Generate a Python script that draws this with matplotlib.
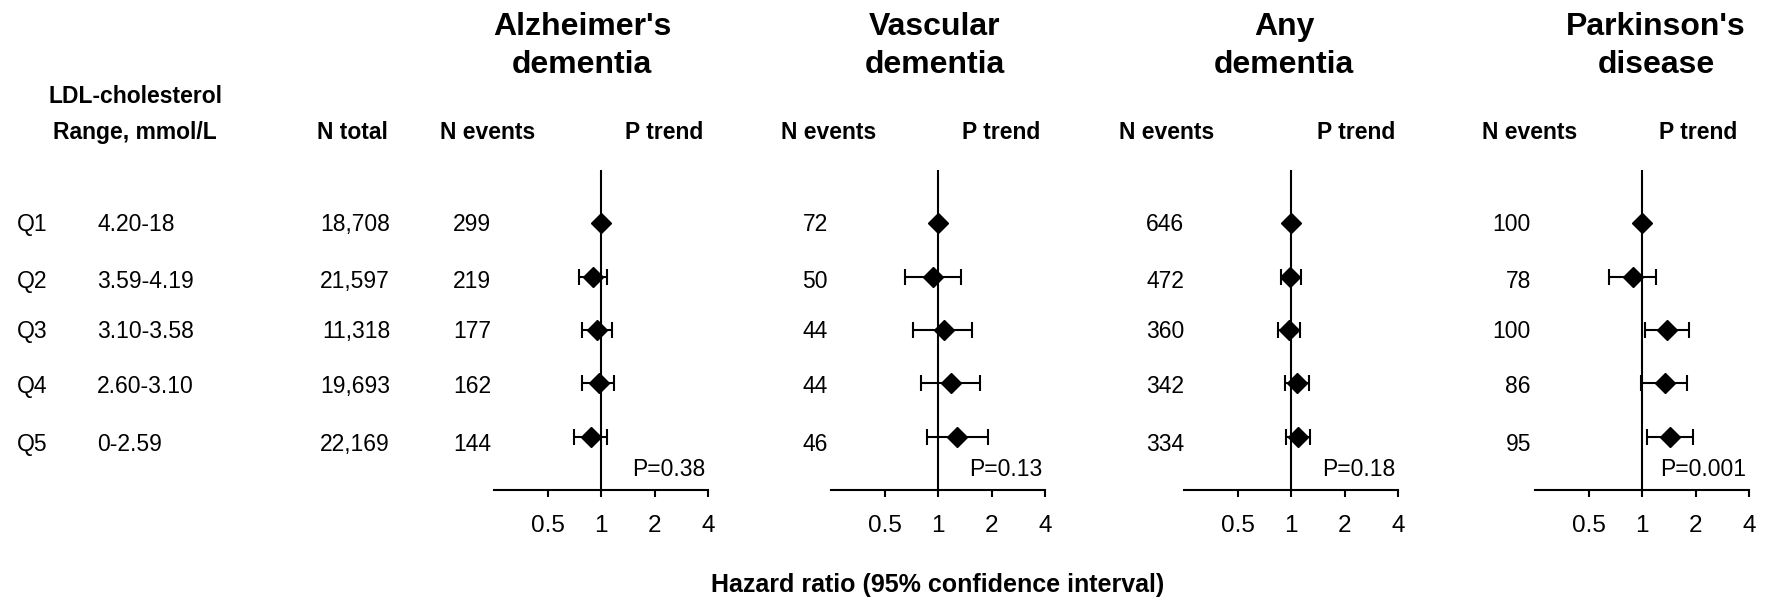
import numpy as np
import matplotlib
matplotlib.use('Agg')
import matplotlib.pyplot as plt
from matplotlib.ticker import NullLocator

plt.rcParams['font.family'] = ['Liberation Sans', 'DejaVu Sans']

# LDL-cholesterol quintiles
quintiles = ['Q1', 'Q2', 'Q3', 'Q4', 'Q5']
ldl_ranges = ['4.20-18', '3.59-4.19', '3.10-3.58', '2.60-3.10', '0-2.59']
n_total = ['18,708', '21,597', '11,318', '19,693', '22,169']

# Alzheimer's dementia
alz_events = [299, 219, 177, 162, 144]
alz_hr = [1.0, 0.905, 0.953, 0.97, 0.88]
alz_lo = [1.0, 0.75, 0.78, 0.785, 0.705]
alz_hi = [1.0, 1.085, 1.15, 1.18, 1.085]
alz_p = 'P=0.38'

# Vascular dementia
vas_events = [72, 50, 44, 44, 46]
vas_hr = [1.0, 0.94, 1.076, 1.19, 1.28]
vas_lo = [1.0, 0.65, 0.72, 0.80, 0.865]
vas_hi = [1.0, 1.35, 1.56, 1.73, 1.91]
vas_p = 'P=0.13'

# Any dementia
any_events = [646, 472, 360, 342, 334]
any_hr = [1.0, 0.99, 0.98, 1.076, 1.09]
any_lo = [1.0, 0.88, 0.85, 0.93, 0.937]
any_hi = [1.0, 1.14, 1.12, 1.26, 1.28]
any_p = 'P=0.18'

# Parkinson's disease
pd_events = [100, 78, 100, 86, 95]
pd_hr = [1.0, 0.886, 1.39, 1.34, 1.44]
pd_lo = [1.0, 0.656, 1.044, 0.99, 1.066]
pd_hi = [1.0, 1.20, 1.85, 1.79, 1.93]
pd_p = 'P=0.001'

outcomes = [
    ("Alzheimer's\ndementia", alz_events, alz_hr, alz_lo, alz_hi, alz_p),
    ("Vascular\ndementia", vas_events, vas_hr, vas_lo, vas_hi, vas_p),
    ("Any\ndementia", any_events, any_hr, any_lo, any_hi, any_p),
    ("Parkinson's\ndisease", pd_events, pd_hr, pd_lo, pd_hi, pd_p),
]

# page layout in pixels
W, H = 1766, 605
panel_left = [494, 831, 1184, 1535]
panel_w = 214
panel_top, panel_bottom = 170, 490
title_x = [582, 935, 1284, 1656]
events_head_x = [488, 829, 1167, 1530]
ptrend_head_x = [664, 1001, 1356, 1698]
events_right_x = [491, 828, 1184, 1531]
row_text_y = [223, 280, 330, 385, 443]

body_fs = 16.5
head_fs = 16.5

fig = plt.figure(figsize=(W / 100, H / 100), dpi=100)

# background axes in pixel units for the table text
bg = fig.add_axes([0, 0, 1, 1])
bg.set_xlim(0, W)
bg.set_ylim(H, 0)
bg.axis('off')

bg.text(136, 103, 'LDL-cholesterol', ha='center', va='baseline',
        fontsize=head_fs, fontweight='bold')
bg.text(135, 139, 'Range, mmol/L', ha='center', va='baseline',
        fontsize=head_fs, fontweight='bold')
bg.text(352, 139, 'N total', ha='center', va='baseline',
        fontsize=head_fs, fontweight='bold')

for i in range(len(quintiles)):
    yb = row_text_y[i] + 8
    bg.text(17, yb, quintiles[i], ha='left', va='baseline', fontsize=body_fs)
    bg.text(97, yb, ldl_ranges[i], ha='left', va='baseline', fontsize=body_fs)
    bg.text(390, yb, n_total[i], ha='right', va='baseline', fontsize=body_fs)

rows = np.arange(len(quintiles))

for k, (title, events, hr, lo, hi, ptxt) in enumerate(outcomes):
    # panel title, two lines
    for j, line in enumerate(title.split('\n')):
        bg.text(title_x[k], 35 + 37.7 * j, line, ha='center', va='baseline',
                fontsize=23, fontweight='bold')
    bg.text(events_head_x[k], 139, 'N events', ha='center', va='baseline',
            fontsize=head_fs, fontweight='bold')
    bg.text(ptrend_head_x[k], 139, 'P trend', ha='center', va='baseline',
            fontsize=head_fs, fontweight='bold')
    for i, n in enumerate(events):
        bg.text(events_right_x[k], row_text_y[i] + 8, str(n), ha='right',
                va='baseline', fontsize=body_fs)

    ax = fig.add_axes([panel_left[k] / W, (H - panel_bottom) / H,
                       panel_w / W, (panel_bottom - panel_top) / H])
    ax.patch.set_visible(False)
    ax.set_xscale('log', base=2)
    ax.set_xlim(0.25, 4)
    ax.set_ylim(len(rows), -1)

    ax.axvline(1, color='black', lw=1.5, zorder=1)
    hr = np.array(hr)
    err = [hr - np.array(lo), np.array(hi) - hr]
    ax.errorbar(hr, rows, xerr=err, fmt='D', color='black', ms=9.7,
                elinewidth=1.5, capsize=6, capthick=1.5, zorder=3)

    for side in ['left', 'right', 'top']:
        ax.spines[side].set_visible(False)
    ax.spines['bottom'].set_linewidth(1.5)
    ax.set_yticks([])
    ax.set_xticks([0.5, 1, 2, 4])
    ax.set_xticklabels(['0.5', '1', '2', '4'])
    ax.xaxis.set_minor_locator(NullLocator())
    ax.tick_params(axis='x', direction='out', length=5, width=1.5,
                   labelsize=17.5, pad=13)

    ax.text(1 - 3 / panel_w, (panel_bottom - 476) / (panel_bottom - panel_top),
            ptxt, transform=ax.transAxes, ha='right', va='baseline',
            fontsize=body_fs)

bg.text(938, 592, 'Hazard ratio (95% confidence interval)', ha='center',
        va='baseline', fontsize=18, fontweight='bold')

fig.savefig('out.png', dpi=100)
